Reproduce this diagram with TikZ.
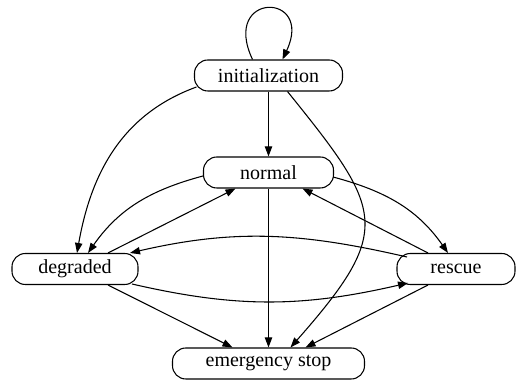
\documentclass[tikz,border=0pt]{standalone}
\usepackage{fontspec}
\setmainfont{Liberation Serif}
\newfontfamily\statefont{Liberation Serif}
\usetikzlibrary{arrows.meta}

\begin{document}
\begin{tikzpicture}[x=0.75pt, y=0.75pt,
    state/.style={draw, line width=0.8pt, rounded corners=10pt,
        minimum height=23.25pt, inner sep=0pt,
        font=\statefont\fontsize{15}{18}\selectfont},
    trans/.style={line width=0.8pt, -{Triangle[length=7.5pt,width=5.5pt]}}]

        % Frame
        \useasboundingbox (0,0) rectangle (517,384);

        % States
        \node[state, minimum width=111pt] (init) at (268.5,308.5) {initialization};
        \node[state, minimum width=97.5pt] (normal) at (268.5,211.5) {normal};
        \node[state, minimum width=94.5pt] (degraded) at (75,115) {degraded};
        \node[state, minimum width=88.5pt] (rescue) at (456,115) {rescue};
        \node[state, minimum width=144pt] (estop) at (268.5,20.5) {emergency stop};

        % Self loop on initialization
        \draw[trans] ([shift={(-16,0)}]init.north)
            .. controls +(-32,68) and +(32,68) .. ([shift={(14,0)}]init.north);

        % Out of initialization
        \draw[trans] (init.south) -- (normal.north);
        \draw[trans] ([shift={(-72,-11.5)}]init.center)
            to[out=200, in=80] ([shift={(2,0)}]degraded.north);
        \draw[trans] ([shift={(19,0)}]init.south)
            .. controls +(96,-119) and +(104,118) .. ([shift={(22,0)}]estop.north);

        % Normal <-> degraded
        \draw[trans] ([shift={(0,-3.5)}]normal.west)
            to[out=195, in=55] ([shift={(13,0)}]degraded.north);
        \draw[trans] ([shift={(33,0)}]degraded.north)
            -- ([shift={(-33,0)}]normal.south);

        % Normal <-> rescue
        \draw[trans] ([shift={(-1,-4.5)}]normal.east)
            to[out=-15, in=125] ([shift={(-8,0)}]rescue.north);
        \draw[trans] ([shift={(-28,0)}]rescue.north)
            -- ([shift={(34,0)}]normal.south);

        % Degraded <-> rescue
        \draw[trans] ([shift={(-49,12)}]rescue.center)
            to[out=167, in=13] ([shift={(55,0)}]degraded.north);
        \draw[trans] ([shift={(57,-15)}]degraded.center)
            to[out=-13, in=193] ([shift={(-48,-14)}]rescue.center);

        % Into emergency stop
        \draw[trans] ([shift={(33,0)}]degraded.south)
            -- ([shift={(-36,0)}]estop.north);
        \draw[trans] (normal.south) -- (estop.north);
        \draw[trans] ([shift={(-28,0)}]rescue.south)
            -- ([shift={(37,0)}]estop.north);

    \end{tikzpicture}
\end{document}
